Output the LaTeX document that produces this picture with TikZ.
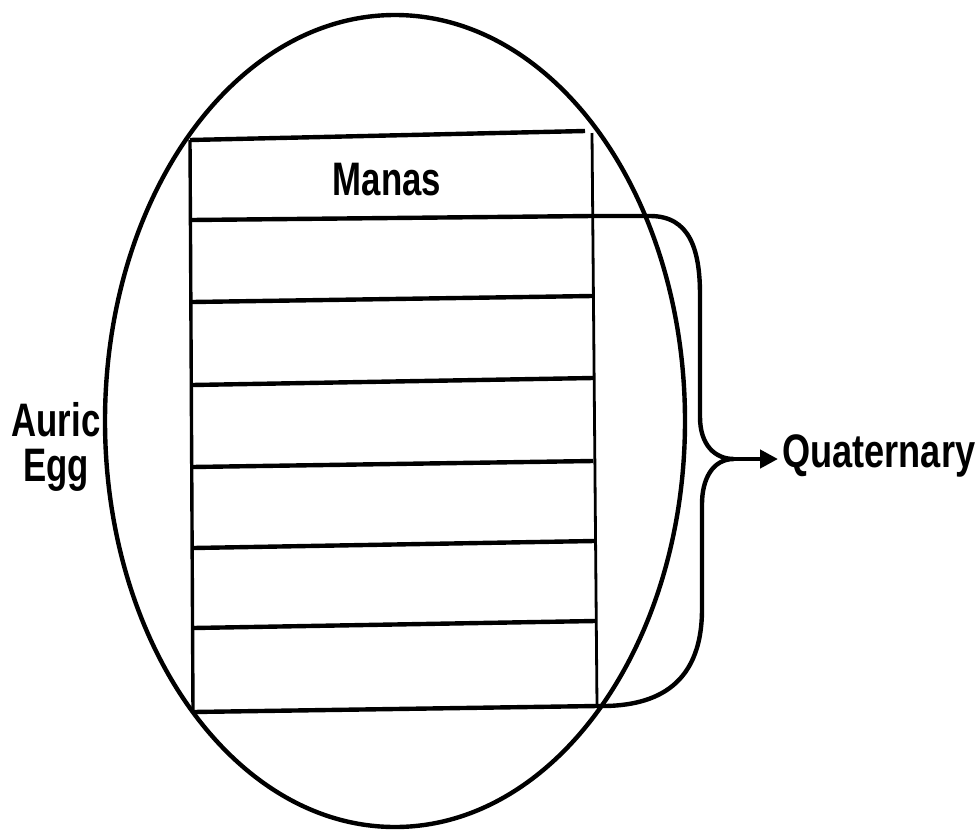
\documentclass[tikz,border=0pt]{standalone}
\usepackage{fontspec}
\setmainfont{Liberation Sans}
\usetikzlibrary{arrows.meta,shapes.geometric}
\tikzset{
  ink/.style={line width=4.4pt, black},
  thinink/.style={line width=2.8pt, black},
  lbl/.style={inner sep=0pt, font=\fontsize{47}{45}\selectfont\bfseries},
}
\newcommand{\narrow}[1]{\scalebox{0.74}[1]{#1}}
\begin{document}
\begin{tikzpicture}[x=1pt,y=-1pt]
\useasboundingbox (0,0) rectangle (977,831);
% auric egg
\node[ink, draw, ellipse, minimum width=580pt, minimum height=812pt, inner sep=0pt] (egg) at (395,421) {};
% rectangle corners and layer lines
\coordinate (l0) at (190,140); \coordinate (r0) at (585,131);
\coordinate (l1) at (191,220); \coordinate (r1) at (592,216);
\coordinate (l2) at (192,302); \coordinate (r2) at (592,296);
\coordinate (l3) at (192,385); \coordinate (r3) at (593,378);
\coordinate (l4) at (192,467); \coordinate (r4) at (593,461);
\coordinate (l5) at (193,548); \coordinate (r5) at (594,541);
\coordinate (l6) at (193,628); \coordinate (r6) at (595,621);
\coordinate (l7) at (193,712); \coordinate (r7) at (597,706);
\coordinate (rt) at (592,133);
\draw[ink] (l0) -- (r0);
\foreach \i in {1,...,7} {\draw[ink] (l\i) -- (r\i);}
\draw[thinink, line width=3.4pt] (l0) -- (l7);
\draw[thinink] (rt) -- (r7);
% brace
\coordinate (tip) at (734,459);
\draw[ink] (r1) -- (650,216) .. controls (690,216) and (700,250) .. (700,295)
  -- (700,417) .. controls (700,445) and (715,459) .. (tip)
  .. controls (712,459) and (702,480) .. (702,504)
  -- (702,609) .. controls (702,690) and (650,707) .. (r7);
% labels
\node[lbl, anchor=base] (manas) at (387,195) {\narrow{Manas}};
\node[lbl, anchor=base west] (quat) at (782,467) {\scalebox{0.77}[1]{Quaternary}};
\node[lbl, anchor=base, align=center] (auric) at (56,481) {\narrow{Auric}\\\narrow{Egg}};
\draw[ink, shorten >=4pt, -{Triangle[length=18pt,width=18pt]}] (tip) -- (quat.west |- tip);
\end{tikzpicture}
\end{document}
